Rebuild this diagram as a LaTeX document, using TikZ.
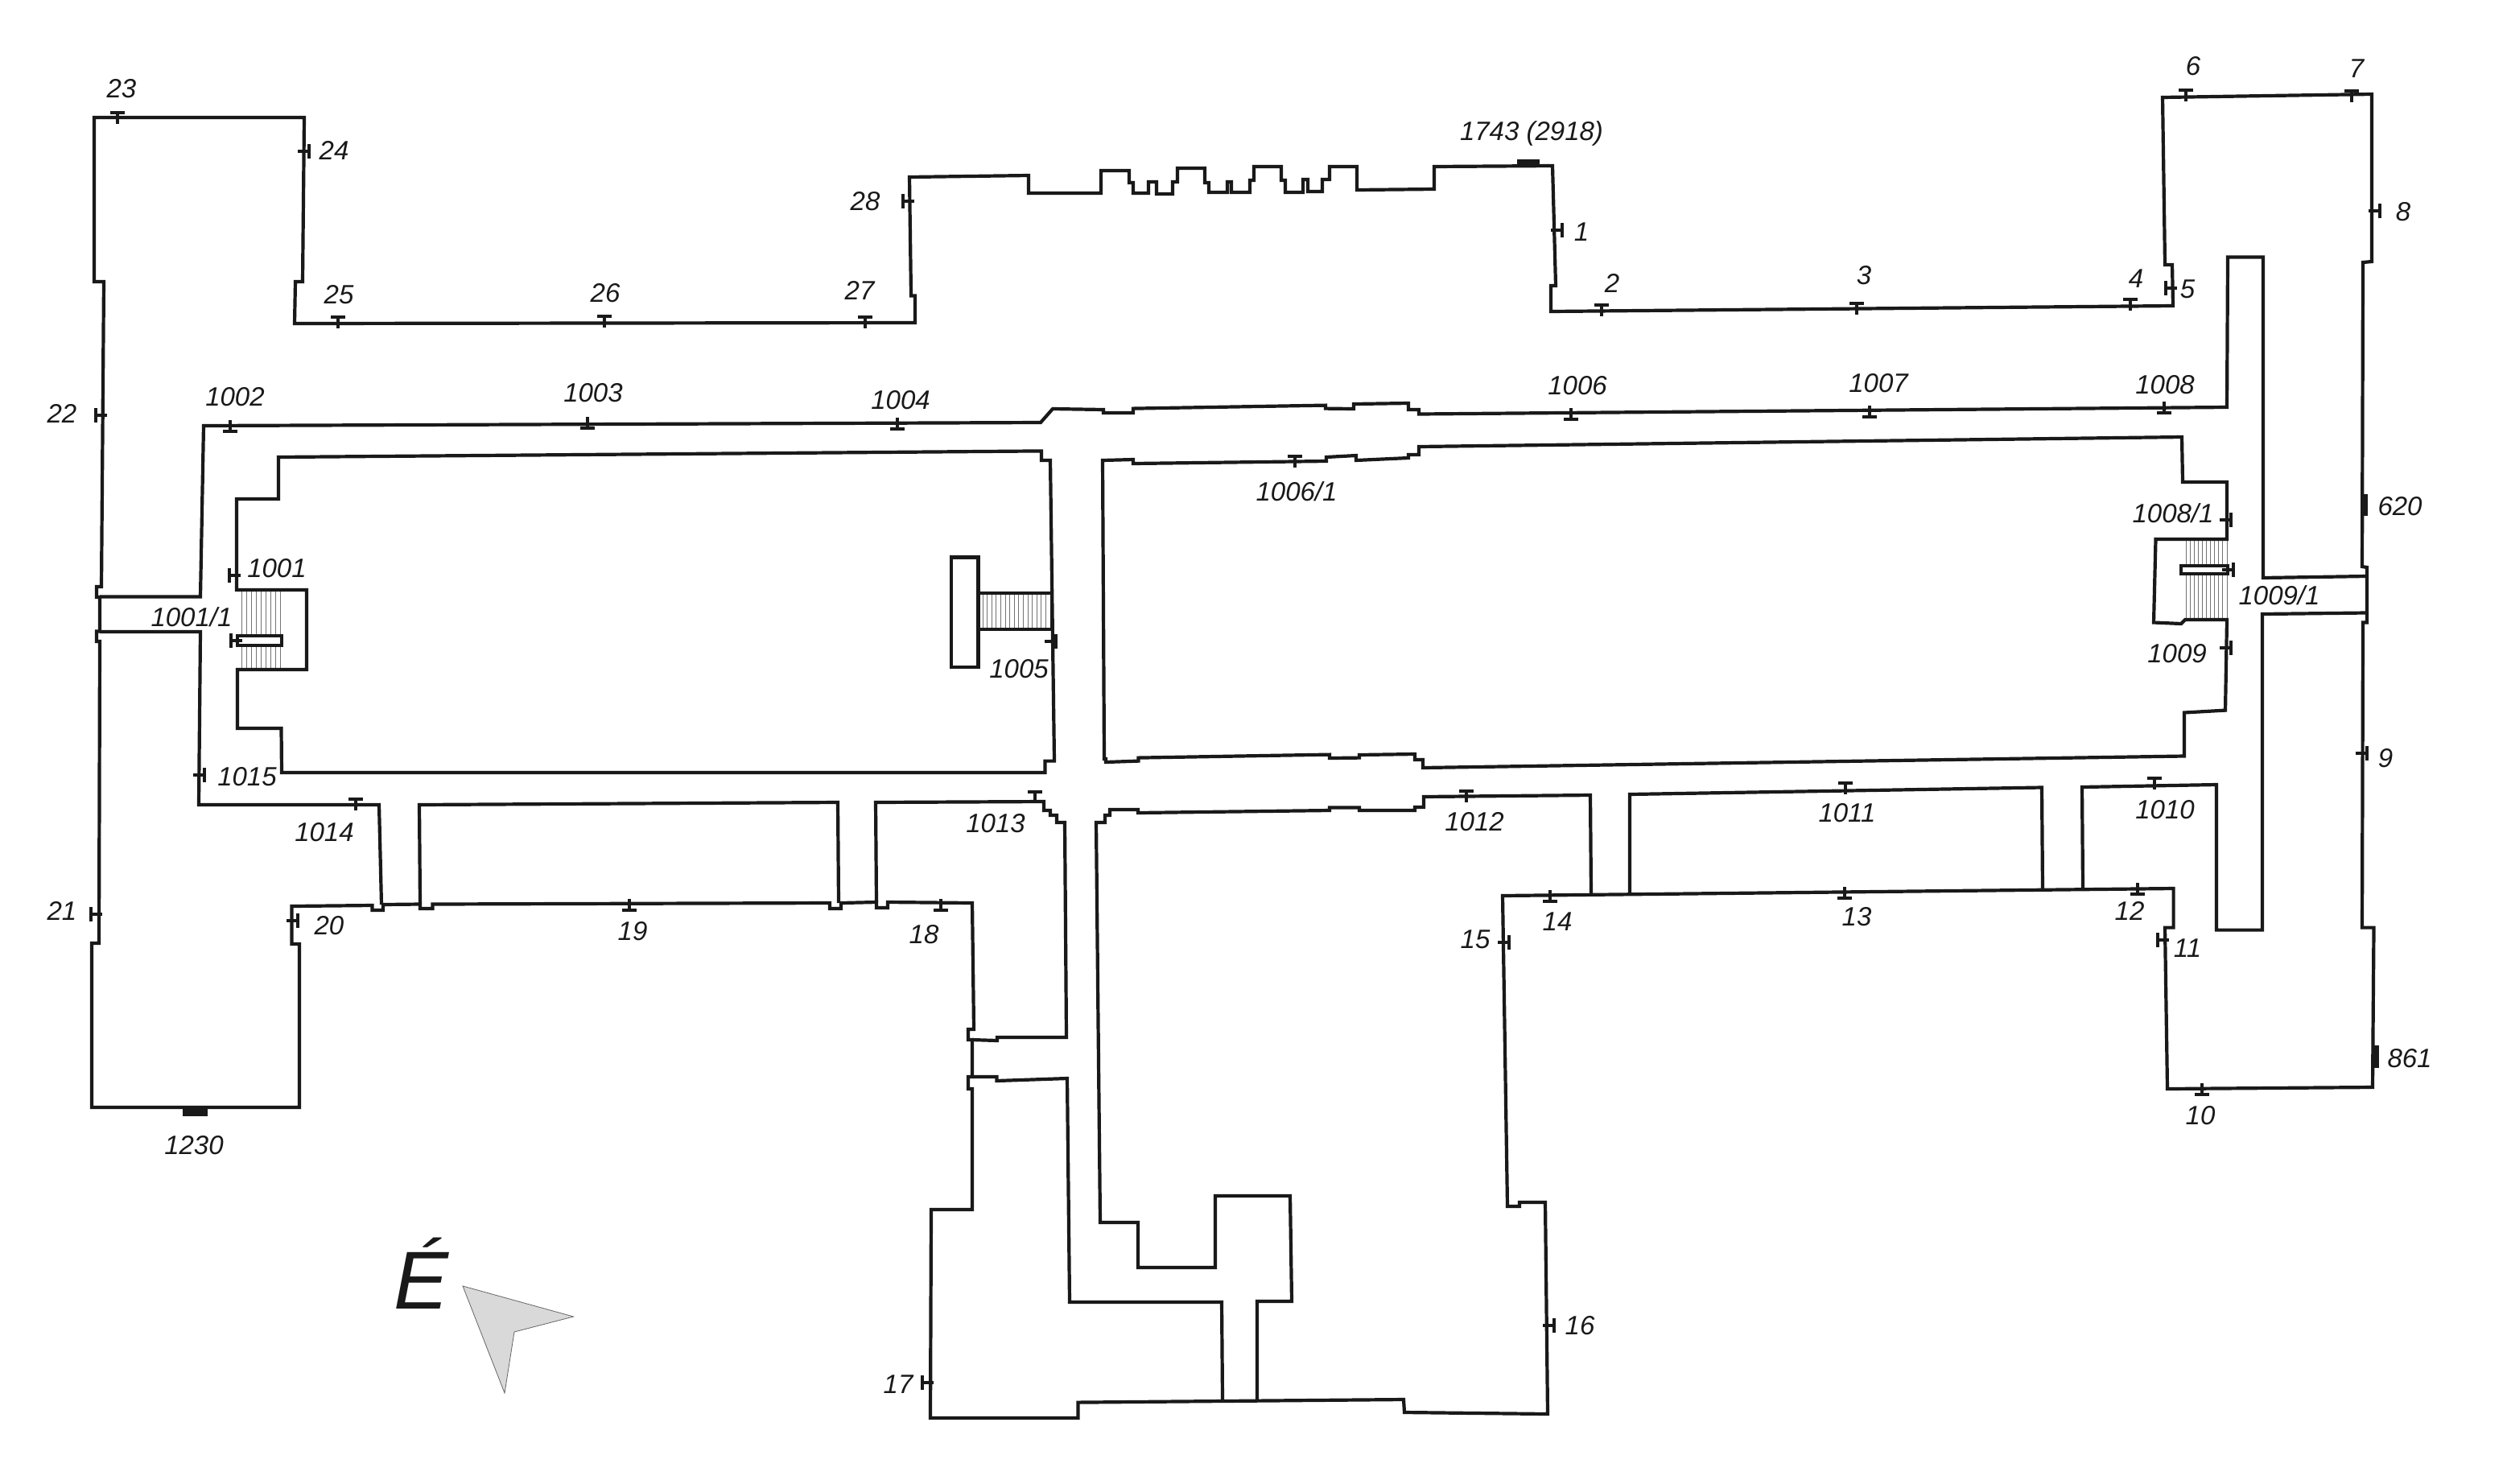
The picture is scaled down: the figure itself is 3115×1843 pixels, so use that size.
\documentclass[tikz,border=0pt]{standalone}
\usepackage{fontspec}
\setmainfont{Liberation Sans}
\tikzset{
    wall/.style={draw=black!90, line width=2.1pt, line join=miter},
    bar/.style={black!90, line width=2.4pt},
    stem/.style={black!90, line width=1.6pt},
    stairline/.style={black!55, line width=0.5pt},
    lbl/.style={inner sep=0pt, font=\fontsize{16.5}{18}\selectfont\itshape, text=black!90},
    marker/.style={fill=black!90, draw=none}
}

\begin{document}
\begin{tikzpicture}[x=0.5pt, y=-0.5pt]
    \useasboundingbox (0,0) rectangle (3115,1843);

    % Stair treads
    \foreach \x in {300,306,...,349} \draw[stairline] (\x,733) -- (\x,832);
    \foreach \x in {1221,1226.6,...,1304} \draw[stairline] (\x,737) -- (\x,782);
    \foreach \x in {2716,2721.1,...,2768} \draw[stairline] (\x,671) -- (\x,770);

    % Outer contour of the building
    \draw[wall] (117,146) -- (378,146) -- (376,350) -- (367,350) -- (366,402) -- (1137,401) -- (1137,367.5) -- (1132,367.5) -- (1130,220) -- (1278,218) -- (1278,240)
        -- (1368,240) -- (1368,212) -- (1403,212) -- (1403,227) -- (1408,227) -- (1408,240) -- (1427,240) -- (1427,226) -- (1437,226) -- (1437,241) -- (1457,241) -- (1457,226) -- (1463,226) -- (1463,209)
        -- (1497,209) -- (1497,227) -- (1502,227) -- (1502,239) -- (1525,239) -- (1525,226) -- (1530,226) -- (1530,239) -- (1553,239) -- (1553,224) -- (1558,224) -- (1558,207)
        -- (1592,207) -- (1592,224) -- (1597,224) -- (1597,239) -- (1619,239) -- (1619,223) -- (1625,223) -- (1625,238) -- (1643,238) -- (1643,223) -- (1652,223) -- (1652,207)
        -- (1686,207) -- (1686,236) -- (1782,235) -- (1782,207) -- (1929,206) -- (1933,355) -- (1927,355) -- (1927,387) -- (2700,380) -- (2699,329) -- (2690,329) -- (2687,121)
        -- (2947,117) -- (2947,325) -- (2936,326) -- (2935,704) -- (2941,705) -- (2941,773.5) -- (2936,773.5) -- (2935,1152.6) -- (2949.5,1152.6) -- (2948,1351) -- (2693,1353)
        -- (2690,1152.6) -- (2700.6,1152.6) -- (2700.6,1104) -- (1867,1113) -- (1873,1499) -- (1888,1499) -- (1888,1494) -- (1920,1494) -- (1923,1757) -- (1745,1755) -- (1744,1739)
        -- (1339.5,1742.6) -- (1339.5,1762) -- (1156,1762) -- (1157,1503) -- (1208,1503) -- (1208,1353) -- (1203,1353) -- (1203,1338) -- (1208,1338) -- (1208,1292) -- (1203,1292) -- (1203,1279)
        -- (1210,1279) -- (1208,1122) -- (1103,1121) -- (1103,1128) -- (1089,1128) -- (1089,1121) -- (1045,1122) -- (1045,1129) -- (1031,1129) -- (1031,1122)
        -- (537.5,1123.5) -- (537.5,1129) -- (522,1129) -- (522,1123.5) -- (476,1124) -- (476,1131) -- (462.5,1131) -- (462.5,1125) -- (362.5,1126) -- (362.5,1173) -- (372,1173)
        -- (372,1376) -- (114,1376) -- (114,1172) -- (123,1172) -- (124,797) -- (120,797) -- (120,784.5) -- (124,784.5) -- (124,742) -- (120,742) -- (120,729) -- (126,729) -- (129,350) -- (117,350) -- cycle;

    % Corridors
    \draw[wall] (1208,1338) -- (1238.5,1338) -- (1238.5,1343) -- (1326,1340) -- (1329,1618) -- (1518,1618) -- (1519,1739);
    \draw[wall] (1562,1739) -- (1562,1617) -- (1605,1617) -- (1603,1486) -- (1510,1486) -- (1510,1575) -- (1414,1575) -- (1414,1519) -- (1367,1519) -- (1362,1022) -- (1373,1022) -- (1373,1013) -- (1379,1013) -- (1379,1006)
        -- (1414,1006) -- (1414,1010) -- (1652,1007) -- (1652,1003.5) -- (1689,1003.5) -- (1689,1007) -- (1758,1007) -- (1758,1003) -- (1769,1003) -- (1769,990) -- (1976,988) -- (1977,1112);
    \draw[wall] (1208,1292) -- (1239,1293) -- (1239,1289) -- (1325,1289) -- (1323,1022) -- (1313,1022) -- (1313,1013) -- (1305,1013) -- (1305,1007) -- (1297,1007) -- (1297,996) -- (1088,997) -- (1089,1121);
    \draw[wall] (2025,1112) -- (2025,987) -- (2537,978.5) -- (2538,1106);
    \draw[wall] (2588,1104) -- (2587,978) -- (2754,975) -- (2754,1155.6) -- (2811,1155.6) -- (2811,763) -- (2940,761.5);
    \draw[wall] (2940,716) -- (2812,718) -- (2812,319.5) -- (2768,319.5) -- (2767,506) -- (1763,514.5) -- (1763,509) -- (1750,509) -- (1750,501) -- (1682,502) -- (1682,508) -- (1647,507.6) -- (1647,503.6)
        -- (1408,507.6) -- (1408,513) -- (1371,513) -- (1371,509) -- (1308,508) -- (1293,525) -- (253,529) -- (249,741.5) -- (124,741.5);
    \draw[wall] (124,785) -- (249,785) -- (247,1000) -- (471,1000) -- (474,1124);
    \draw[wall] (522,1124) -- (521,1000) -- (1041,997) -- (1042,1122);

    % Inner blocks
    \draw[wall] (346,568) -- (346,620) -- (294,620) -- (294,733) -- (381,733) -- (381,832) -- (295,832) -- (295,905) -- (349.5,905) -- (350,960) -- (1298.5,960) -- (1298.5,945.6) -- (1310,945.6) -- (1305,572) -- (1294,572) -- (1294,560.4) -- cycle;
    \draw[wall] (1370,572) -- (1408,571) -- (1408,576) -- (1648,573) -- (1648,568) -- (1685,566) -- (1685,572) -- (1750,569) -- (1750,565) -- (1763,565) -- (1763,555) -- (2711,543) -- (2712,599) -- (2767,599) -- (2767,670) -- (2678.5,670)
        -- (2676,773.5) -- (2710,775) -- (2715,770) -- (2767,770) -- (2765,882.6) -- (2714,885.5) -- (2714,939.5) -- (1768,954) -- (1768,944) -- (1758,944) -- (1758,937) -- (1689,938) -- (1689,941.6) -- (1652,942) -- (1652,937.6)
        -- (1414.5,941.6) -- (1414.5,945.6) -- (1374,947) -- (1374,943) -- (1372,943) -- cycle;

    % Stair landings
    \draw[wall, fill=white] (295,790) rectangle (350,802);
    \draw[wall, fill=white] (2710,703) rectangle (2768,713);
    \draw[wall] (1182,692.5) rectangle (1215.5,829);
    \draw[wall] (1215.5,737) rectangle (1307,782);

    % Survey marks, bar on top
    \foreach \x/\y in {146/140, 420/394, 751/393, 1075/394, 1990/379, 2307/377, 2647/372, 2716/112, 2922/113, 442/993, 1286/984, 1822/983, 2677/967, 2293/973, 1609/567} {
        \draw[bar] (\x-9,\y) -- (\x+9,\y);
        \draw[stem] (\x,\y) -- (\x,\y+14);
    }
    % bar below
    \foreach \x/\y in {286/536, 730/532, 1115/533, 1952/521, 2323/518, 2689/513, 2292/1116, 2656/1111, 2736/1360, 1926/1120, 1169/1131, 782/1131} {
        \draw[bar] (\x-9,\y) -- (\x+9,\y);
        \draw[stem] (\x,\y) -- (\x,\y-14);
    }
    % bar on the right
    \foreach \x/\y in {384/188, 1941/286, 2957/262, 2941/936, 1875/1171, 1931/1647, 370/1144, 254/963, 1312/797, 2772/646, 2772/805, 2775/708} {
        \draw[bar] (\x,\y-9) -- (\x,\y+9);
        \draw[stem] (\x,\y) -- (\x-14,\y);
    }
    % bar on the left
    \foreach \x/\y in {119/516, 1122/250, 2691/358, 2681/1168, 1146/1718, 113/1136, 285/715, 287/796} {
        \draw[bar] (\x,\y-9) -- (\x,\y+9);
        \draw[stem] (\x,\y) -- (\x+14,\y);
    }

    % Filled markers
    \fill[marker] (1885,198) rectangle (1913,207);
    \fill[marker] (2933,614) rectangle (2942,641);
    \fill[marker] (2947,1299) rectangle (2956,1327);
    \fill[marker] (227,1376) rectangle (258,1387);

    % North arrow
    \draw[fill=black!15, draw=black!60, line width=0.4pt] (575,1598) -- (712.5,1636) -- (639,1655) -- (627,1731) -- cycle;
    \node[inner sep=0pt, anchor=base, font=\fontsize{51}{55}\selectfont\itshape, text=black!90] (north) at (524,1626) {É};

    % Outer labels
    \node[lbl] (n1) at (1965,288) {1};
    \node[lbl] (n2) at (2003,352) {2};
    \node[lbl] (n3) at (2316,342) {3};
    \node[lbl] (n4) at (2654,346) {4};
    \node[lbl] (n5) at (2718,359) {5};
    \node[lbl] (n6) at (2725,82) {6};
    \node[lbl] (n7) at (2928,85) {7};
    \node[lbl] (n8) at (2986,263) {8};
    \node[lbl] (n9) at (2964,942) {9};
    \node[lbl] (n10) at (2734,1386) {10};
    \node[lbl] (n11) at (2718,1178) {11};
    \node[lbl] (n12) at (2646,1132) {12};
    \node[lbl] (n13) at (2307,1139) {13};
    \node[lbl] (n14) at (1935,1145) {14};
    \node[lbl] (n15) at (1833,1167) {15};
    \node[lbl] (n16) at (1963,1647) {16};
    \node[lbl] (n17) at (1116,1720) {17};
    \node[lbl] (n18) at (1148,1161) {18};
    \node[lbl] (n19) at (786,1157) {19};
    \node[lbl] (n20) at (409,1150) {20};
    \node[lbl] (n21) at (77,1132) {21};
    \node[lbl] (n22) at (77,514) {22};
    \node[lbl] (n23) at (151,110) {23};
    \node[lbl] (n24) at (415,187) {24};
    \node[lbl] (n25) at (421,366) {25};
    \node[lbl] (n26) at (752,364) {26};
    \node[lbl] (n27) at (1068,361) {27};
    \node[lbl] (n28) at (1075,250) {28};

    % Measured points with large numbers
    \node[lbl] (n620) at (2982,629) {620};
    \node[lbl] (n861) at (2994,1315) {861};
    \node[lbl] (n1230) at (241,1423) {1230};
    \node[lbl] (n1743) at (1903,166) {1743 (2918)};

    % Inner labels
    \node[lbl] (n1001) at (344,706) {1001};
    \node[lbl] (n1001a) at (238,767) {1001/1};
    \node[lbl] (n1002) at (292,493) {1002};
    \node[lbl] (n1003) at (737,488) {1003};
    \node[lbl] (n1004) at (1119,497) {1004};
    \node[lbl] (n1005) at (1266,831) {1005};
    \node[lbl] (n1006) at (1960,479) {1006};
    \node[lbl] (n1006a) at (1611,611) {1006/1};
    \node[lbl] (n1007) at (2334,476) {1007};
    \node[lbl] (n1008) at (2690,478) {1008};
    \node[lbl] (n1008a) at (2700,638) {1008/1};
    \node[lbl] (n1009) at (2705,812) {1009};
    \node[lbl] (n1009a) at (2832,740) {1009/1};
    \node[lbl] (n1010) at (2690,1006) {1010};
    \node[lbl] (n1011) at (2295,1010) {1011};
    \node[lbl] (n1012) at (1832,1021) {1012};
    \node[lbl] (n1013) at (1237,1023) {1013};
    \node[lbl] (n1014) at (403,1034) {1014};
    \node[lbl] (n1015) at (307,965) {1015};
\end{tikzpicture}
\end{document}
